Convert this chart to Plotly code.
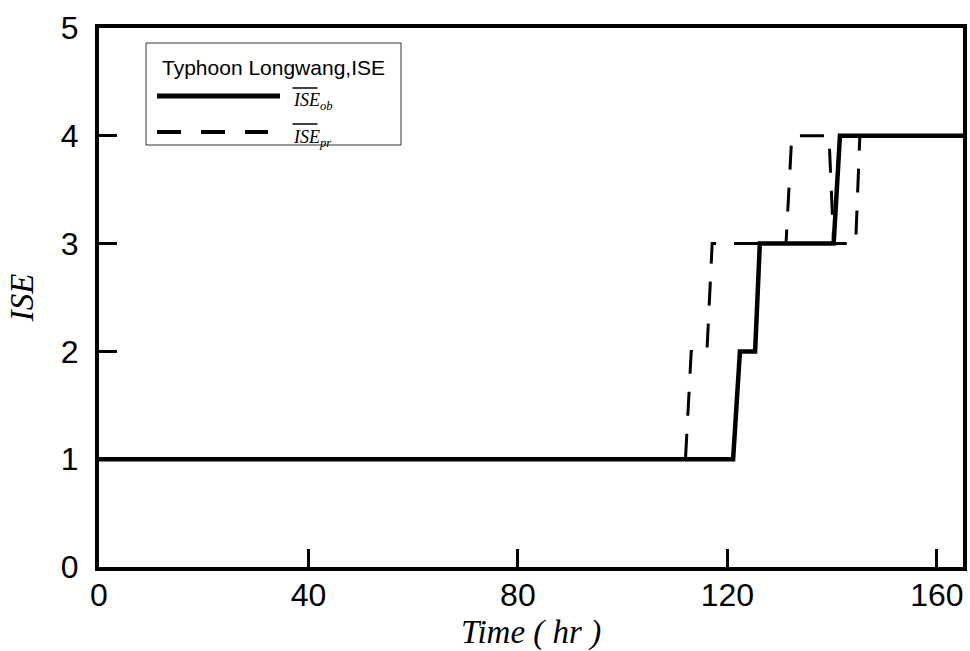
import plotly.graph_objects as go

# ---- data ----
ob_time = [0, 121.1, 122.4, 125.3, 126.2, 140.3, 141.5, 165]
ob_ise = [1, 1, 2, 2, 3, 3, 4, 4]

pr_time = [0, 112.0, 113.1, 116.1, 117.1, 131.2, 132.3, 139.4, 140.3, 144.5, 145.3, 165]
pr_ise = [1, 1, 2, 2, 3, 3, 4, 4, 3, 3, 4, 4]

x_ticks = [0, 40, 80, 120, 160]
y_ticks = [0, 1, 2, 3, 4, 5]

legend_title = "Typhoon Longwang,ISE"
label_ob = "<i>ISE<sub>ob</sub></i>"
label_pr = "<i>ISE<sub>pr</sub></i>"

# ---- layout geometry (pixels) ----
W, H = 970, 651
L, R, T, B = 99, 7, 28, 84
PW = W - L - R
PH = H - T - B


def px(xp):
    return (xp - L) / PW


def py(yp):
    return (H - B - yp) / PH


SANS = "Liberation Sans, Arial, sans-serif"
SERIF = "Liberation Serif, Times New Roman, serif"

fig = go.Figure()
fig.add_trace(go.Scatter(x=pr_time, y=pr_ise, mode="lines",
                         line=dict(color="black", width=3, dash="24px,18px"),
                         showlegend=False, hoverinfo="skip"))
fig.add_trace(go.Scatter(x=ob_time, y=ob_ise, mode="lines",
                         line=dict(color="black", width=4.5),
                         showlegend=False, hoverinfo="skip"))

shapes = []
annotations = []

# legend box
shapes.append(dict(type="rect", xref="paper", yref="paper",
                   x0=px(146), x1=px(401), y0=py(145), y1=py(43),
                   line=dict(color="#333333", width=1), fillcolor="white", layer="above"))
annotations.append(dict(xref="paper", yref="paper", x=px(160), y=py(68),
                        xanchor="left", yanchor="middle", showarrow=False,
                        text=legend_title, font=dict(family=SANS, size=21, color="black")))
# solid sample
shapes.append(dict(type="line", xref="paper", yref="paper",
                   x0=px(157), x1=px(280), y0=py(96), y1=py(96),
                   line=dict(color="black", width=5), layer="above"))
# dashed sample
shapes.append(dict(type="line", xref="paper", yref="paper",
                   x0=px(157), x1=px(268), y0=py(132), y1=py(132),
                   line=dict(color="black", width=4, dash="24px,20px"), layer="above"))
# labels with overlines
annotations.append(dict(xref="paper", yref="paper", x=px(291), y=py(102),
                        xanchor="left", yanchor="middle", showarrow=False,
                        text=label_ob, font=dict(family=SERIF, size=18, color="black")))
annotations.append(dict(xref="paper", yref="paper", x=px(291), y=py(138),
                        xanchor="left", yanchor="middle", showarrow=False,
                        text=label_pr, font=dict(family=SERIF, size=18, color="black")))
for oy in (88, 124):
    shapes.append(dict(type="line", xref="paper", yref="paper",
                       x0=px(292.5), x1=px(317.5), y0=py(oy), y1=py(oy),
                       line=dict(color="black", width=1.5), layer="above"))

fig.update_layout(
    width=W, height=H,
    margin=dict(l=L, r=R, t=T, b=B, pad=0, autoexpand=False),
    paper_bgcolor="white", plot_bgcolor="white",
    showlegend=False,
    shapes=shapes, annotations=annotations,
    xaxis=dict(range=[0, 165], tickvals=x_ticks, ticktext=[str(v) for v in x_ticks],
               ticks="inside", ticklen=18, tickwidth=3, tickcolor="black",
               showline=True, linewidth=4, linecolor="black", mirror=True,
               showgrid=False, zeroline=False, ticklabelstandoff=-3,
               automargin=False,
               tickfont=dict(family=SANS, size=32, color="black"),
               title=dict(text="<i>Time ( hr )</i>", standoff=12,
                          font=dict(family=SERIF, size=33, color="black"))),
    yaxis=dict(range=[0, 5], tickvals=y_ticks, ticktext=[str(v) for v in y_ticks],
               ticks="inside", ticklen=18, tickwidth=3, tickcolor="black",
               showline=True, linewidth=4, linecolor="black", mirror=True,
               showgrid=False, zeroline=False, ticklabelstandoff=10,
               automargin=False,
               tickfont=dict(family=SANS, size=32, color="black"),
               title=dict(text="<i>ISE</i>", standoff=18,
                          font=dict(family=SERIF, size=33, color="black"))),
)

fig.write_html("out.html")
